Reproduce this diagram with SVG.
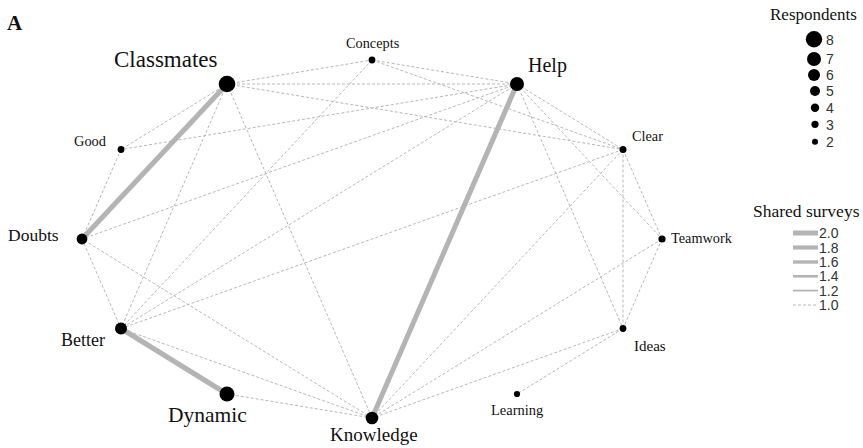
<svg xmlns="http://www.w3.org/2000/svg" width="863" height="448" viewBox="0 0 863 448">
<style>
text{font-family:"Liberation Serif","Times New Roman",serif;fill:#111}
.num{font-family:"Liberation Sans",Arial,sans-serif;font-size:14px;fill:#333}
.d{stroke:#b8b8b8;stroke-width:1;stroke-dasharray:3 2;fill:none}
.t{stroke:#b4b4b4;stroke-width:5;fill:none}
.n{fill:#000}
</style>
<rect width="863" height="448" fill="#fff"/>
<text x="7" y="30" font-size="21" font-weight="bold">A</text>
<g id="connectors">
<line class="d" x1="227" y1="84" x2="121" y2="149.5"/>
<line class="d" x1="227" y1="84" x2="372" y2="60"/>
<line class="d" x1="227" y1="84" x2="517" y2="84"/>
<line class="d" x1="227" y1="84" x2="623" y2="149.5"/>
<line class="d" x1="227" y1="84" x2="121" y2="328.5"/>
<line class="d" x1="227" y1="84" x2="372" y2="418"/>
<line class="d" x1="372" y1="60" x2="517" y2="84"/>
<line class="d" x1="372" y1="60" x2="623" y2="149.5"/>
<line class="d" x1="372" y1="60" x2="121" y2="328.5"/>
<line class="d" x1="517" y1="84" x2="121" y2="149.5"/>
<line class="d" x1="517" y1="84" x2="82" y2="239"/>
<line class="d" x1="517" y1="84" x2="121" y2="328.5"/>
<line class="d" x1="517" y1="84" x2="623" y2="149.5"/>
<line class="d" x1="517" y1="84" x2="662" y2="239"/>
<line class="d" x1="517" y1="84" x2="623" y2="328.5"/>
<line class="d" x1="623" y1="149.5" x2="121" y2="328.5"/>
<line class="d" x1="623" y1="149.5" x2="372" y2="418"/>
<line class="d" x1="623" y1="149.5" x2="662" y2="239"/>
<line class="d" x1="623" y1="149.5" x2="623" y2="328.5"/>
<line class="d" x1="662" y1="239" x2="623" y2="328.5"/>
<line class="d" x1="662" y1="239" x2="372" y2="418"/>
<line class="d" x1="623" y1="328.5" x2="372" y2="418"/>
<line class="d" x1="623" y1="328.5" x2="517" y2="394"/>
<line class="d" x1="372" y1="418" x2="82" y2="239"/>
<line class="d" x1="372" y1="418" x2="121" y2="328.5"/>
<line class="d" x1="372" y1="418" x2="227" y2="394"/>
<line class="d" x1="82" y1="239" x2="121" y2="328.5"/>
<line class="d" x1="82" y1="239" x2="121" y2="149.5"/>
<line class="t" x1="227" y1="84" x2="82" y2="239"/>
<line class="t" x1="517" y1="84" x2="372" y2="418"/>
<line class="t" x1="121" y1="328.5" x2="227" y2="394"/>
</g>
<g id="node-classmates"><circle class="n" cx="227" cy="84" r="8.3"/><text x="114" y="67" font-size="23">Classmates</text></g>
<g id="node-concepts"><circle class="n" cx="372" cy="60" r="3.4"/><text x="346" y="48" font-size="14.3">Concepts</text></g>
<g id="node-help"><circle class="n" cx="517" cy="84" r="7"/><text x="528" y="72" font-size="20">Help</text></g>
<g id="node-clear"><circle class="n" cx="623" cy="149.5" r="3.5"/><text x="632" y="141" font-size="14.3">Clear</text></g>
<g id="node-teamwork"><circle class="n" cx="662" cy="239" r="3.6"/><text x="671" y="243" font-size="14.3">Teamwork</text></g>
<g id="node-ideas"><circle class="n" cx="623" cy="328.5" r="3.4"/><text x="634" y="351" font-size="15">Ideas</text></g>
<g id="node-learning"><circle class="n" cx="517" cy="394" r="3.1"/><text x="491" y="415" font-size="14.5">Learning</text></g>
<g id="node-knowledge"><circle class="n" cx="372" cy="418" r="6.3"/><text x="330" y="441" font-size="19">Knowledge</text></g>
<g id="node-dynamic"><circle class="n" cx="227" cy="394" r="7.5"/><text x="168" y="422" font-size="21.5">Dynamic</text></g>
<g id="node-better"><circle class="n" cx="121" cy="328.5" r="6"/><text x="61" y="346" font-size="18">Better</text></g>
<g id="node-doubts"><circle class="n" cx="82" cy="239" r="5.4"/><text x="8" y="241" font-size="17.5">Doubts</text></g>
<g id="node-good"><circle class="n" cx="121" cy="149.5" r="3.4"/><text x="74" y="146" font-size="14.4">Good</text></g>
<g id="legend-respondents">
<text x="770" y="20" font-size="17">Respondents</text>
<circle class="n" cx="814" cy="39.3" r="8.2"/><text class="num" x="826" y="44.5">8</text>
<circle class="n" cx="814" cy="59" r="7"/><text class="num" x="826" y="64">7</text>
<circle class="n" cx="814" cy="75" r="6"/><text class="num" x="826" y="80">6</text>
<circle class="n" cx="815" cy="91" r="5"/><text class="num" x="826" y="96">5</text>
<circle class="n" cx="815" cy="107.7" r="4.2"/><text class="num" x="826" y="112.7">4</text>
<circle class="n" cx="815" cy="124.3" r="3.6"/><text class="num" x="826" y="129.5">3</text>
<circle class="n" cx="815" cy="141.7" r="3"/><text class="num" x="826" y="146.7">2</text>
</g>
<g id="legend-shared">
<text x="753" y="217" font-size="17.5">Shared surveys</text>
<line x1="793" y1="233" x2="818" y2="233" stroke="#b4b4b4" stroke-width="5"/><text class="num" x="819" y="238">2.0</text>
<line x1="793" y1="247.5" x2="818" y2="247.5" stroke="#b4b4b4" stroke-width="4.2"/><text class="num" x="819" y="252.5">1.8</text>
<line x1="793" y1="262" x2="818" y2="262" stroke="#b4b4b4" stroke-width="3.4"/><text class="num" x="819" y="267">1.6</text>
<line x1="793" y1="276.3" x2="818" y2="276.3" stroke="#b4b4b4" stroke-width="2.6"/><text class="num" x="819" y="281.3">1.4</text>
<line x1="793" y1="290.6" x2="818" y2="290.6" stroke="#b4b4b4" stroke-width="1.8"/><text class="num" x="819" y="295.6">1.2</text>
<line class="d" x1="793" y1="305" x2="818" y2="305"/><text class="num" x="819" y="310">1.0</text>
</g>
</svg>
